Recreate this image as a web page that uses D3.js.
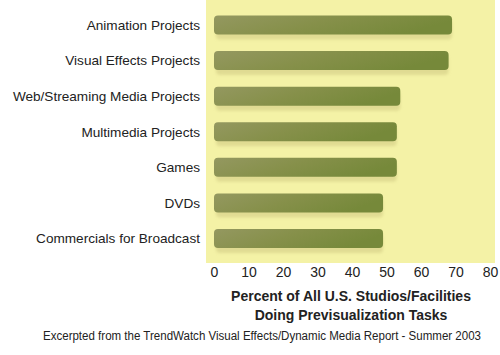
<!DOCTYPE html>
<html><head><meta charset="utf-8">
<script src="https://cdn.jsdelivr.net/npm/d3@7"></script>
<style>body{margin:0;background:#fff}svg{display:block}</style>
</head><body>
<script>
const categories = ["Animation Projects","Visual Effects Projects","Web/Streaming Media Projects","Multimedia Projects","Games","DVDs","Commercials for Broadcast"];
const values = [69, 68, 54, 53, 53, 49, 49];
const xTicks = [0,10,20,30,40,50,60,70,80];
const axisTitle = ["Percent of All U.S. Studios/Facilities","Doing Previsualization Tasks"];
const footer = "Excerpted from the TrendWatch Visual Effects/Dynamic Media Report - Summer 2003";

const W=500,H=355;
const svg=d3.select("body").append("svg").attr("width",W).attr("height",H);
const font="'Liberation Sans', Arial, sans-serif";

const x=d3.scaleLinear().domain([0,80]).range([214,490]);
const y=d3.scaleBand().domain(categories).range([7.2,256.3]).paddingInner(0.466).paddingOuter(0.233);

const defs=svg.append("defs");
const g=defs.append("linearGradient").attr("id","barg").attr("x1","0").attr("x2","1").attr("y1","0").attr("y2","0.3");
g.append("stop").attr("offset","0").attr("stop-color","#949860");
g.append("stop").attr("offset","0.5").attr("stop-color","#86904a");
g.append("stop").attr("offset","1").attr("stop-color","#76893a");
const f=defs.append("filter").attr("id","blur").attr("x","-10%").attr("y","-50%").attr("width","120%").attr("height","200%");
f.append("feGaussianBlur").attr("stdDeviation","1.5");

// panel
svg.append("rect").attr("x",206).attr("y",0).attr("width",289).attr("height",263).attr("fill","#f4f2a6");

// shadows
svg.selectAll("rect.sh").data(categories).join("rect").attr("class","sh")
  .attr("x",x(0)+2).attr("y",d=>y(d)+5).attr("width",(d,i)=>x(values[i])-x(0)-2)
  .attr("height",y.bandwidth()).attr("rx",4).attr("fill","#d8d28a").attr("opacity",0.7).attr("filter","url(#blur)");

// bars
svg.selectAll("rect.bar").data(categories).join("rect").attr("class","bar")
  .attr("x",x(0)).attr("y",d=>y(d)).attr("width",(d,i)=>x(values[i])-x(0))
  .attr("height",y.bandwidth()).attr("rx",4).attr("fill","url(#barg)");

// category labels
svg.selectAll("text.cat").data(categories).join("text").attr("class","cat")
  .attr("x",200).attr("y",d=>y(d)+y.bandwidth()/2).attr("dy","0.35em")
  .attr("text-anchor","end").attr("font-family",font).attr("font-size",13.6).attr("fill","#222")
  .text(d=>d);

// x axis
const ax=d3.axisBottom(x).tickValues(xTicks).tickSize(0).tickPadding(0);
const axg=svg.append("g").attr("transform","translate(0,264)").call(ax);
axg.select(".domain").remove();
axg.selectAll("text").attr("font-family",font).attr("font-size",14).attr("fill","#222").attr("dy","0.95em");

svg.selectAll("text.at").data(axisTitle).join("text").attr("class","at")
  .attr("x",351).attr("y",(d,i)=>301+i*19).attr("text-anchor","middle")
  .attr("font-family",font).attr("font-weight","bold").attr("font-size",14).attr("fill","#222").text(d=>d);

svg.append("text").attr("x",262).attr("y",340).attr("text-anchor","middle")
  .attr("font-family",font).attr("font-size",12).attr("fill","#222")
  .attr("textLength",438).attr("lengthAdjust","spacingAndGlyphs").text(footer);
</script>
</body></html>
